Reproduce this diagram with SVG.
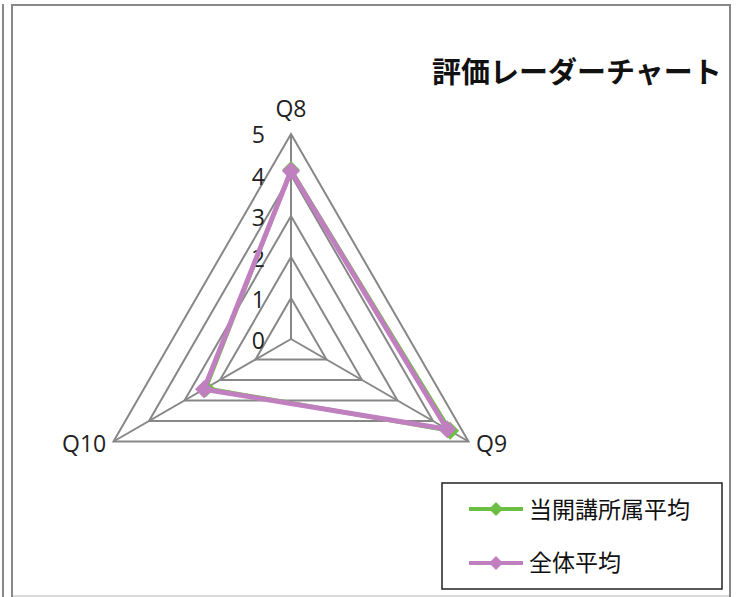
<svg xmlns="http://www.w3.org/2000/svg" width="738" height="597" viewBox="0 0 738 597">
<style>
.frame{stroke:#888;stroke-width:2;fill:none}
.grid{stroke:#878787;stroke-width:2;fill:none}
.lbl{font-family:"Open Sans","Liberation Sans",Arial,sans-serif;font-size:23px;fill:#222}
.ax{font-family:"Open Sans","Liberation Sans",Arial,sans-serif;font-size:23px;fill:#222;text-anchor:end}
.title{font-family:"Noto Sans CJK JP","Noto Sans",sans-serif;font-size:29px;font-weight:bold;fill:#111}
.leg{font-family:"Noto Sans CJK JP","Noto Sans",sans-serif;font-size:23px;fill:#111}
.green{stroke:#6cbf42;stroke-width:4;fill:none;stroke-linejoin:round}
.purple{stroke:#c07fbf;stroke-width:5;fill:none;stroke-linejoin:round}
</style>
<defs>
<path id="dia" d="M0,-9 L9,0 L0,9 L-9,0Z"/>
<path id="ldia" d="M0,-7 L7,0 L0,7 L-7,0Z"/>
</defs>
<rect width="738" height="597" fill="#fff"/>
<g id="frame">
<line class="frame" x1="3" y1="4" x2="3" y2="597"/>
<polyline class="frame" points="12,597 12,5 730,5 730,597"/>
<line x1="13" y1="596" x2="729" y2="596" stroke="#d9d9d9" stroke-width="2"/>
</g>
<g id="title"><text class="title" x="432" y="83">評価レーダーチャート</text></g>
<g id="grid">
<polygon class="grid" points="291,298 326.5,359.5 255.5,359.5"/>
<polygon class="grid" points="291,257 362,380 220,380"/>
<polygon class="grid" points="291,216 397.5,400.5 184.5,400.5"/>
<polygon class="grid" points="291,175 433,421 149,421"/>
<polygon class="grid" points="291,134 468.5,441.5 113.5,441.5"/>
<line class="grid" x1="291" y1="339" x2="291" y2="134"/>
<line class="grid" x1="291" y1="339" x2="468.5" y2="441.5"/>
<line class="grid" x1="291" y1="339" x2="113.5" y2="441.5"/>
</g>
<g id="axis-labels">
<text class="ax" x="265" y="143">5</text>
<text class="ax" x="265" y="185">4</text>
<text class="ax" x="265" y="226">3</text>
<text class="ax" x="265" y="267">2</text>
<text class="ax" x="265" y="308">1</text>
<text class="ax" x="265" y="349">0</text>
</g>
<g id="category-labels">
<text class="lbl" x="291" y="117" text-anchor="middle">Q8</text>
<text class="lbl" x="476" y="452">Q9</text>
<text class="lbl" x="62" y="452">Q10</text>
</g>
<g id="connectors">
<polygon class="green" points="291,170 450.1,430.8 205.8,388.2"/>
<use href="#dia" x="291" y="170" fill="#6cbf42"/>
<use href="#dia" x="450.1" y="430.8" fill="#6cbf42"/>
<use href="#dia" x="205.8" y="388.2" fill="#6cbf42"/>
<polygon class="purple" points="291,171 447.2,429.2 204,389.2"/>
<use href="#dia" x="291" y="171" fill="#c07fbf"/>
<use href="#dia" x="447.2" y="429.2" fill="#c07fbf"/>
<use href="#dia" x="204" y="389.2" fill="#c07fbf"/>
</g>
<g id="legend">
<rect x="442" y="483" width="280" height="106" fill="#fff" stroke="#222" stroke-width="1.5"/>
<line x1="469" y1="509" x2="523" y2="509" stroke="#6cbf42" stroke-width="4"/>
<use href="#ldia" x="496" y="509" fill="#6cbf42"/>
<text class="leg" x="529" y="518">当開講所属平均</text>
<line x1="469" y1="563" x2="523" y2="563" stroke="#c07fbf" stroke-width="4"/>
<use href="#ldia" x="496" y="563" fill="#c07fbf"/>
<text class="leg" x="529" y="571">全体平均</text>
</g>
</svg>
